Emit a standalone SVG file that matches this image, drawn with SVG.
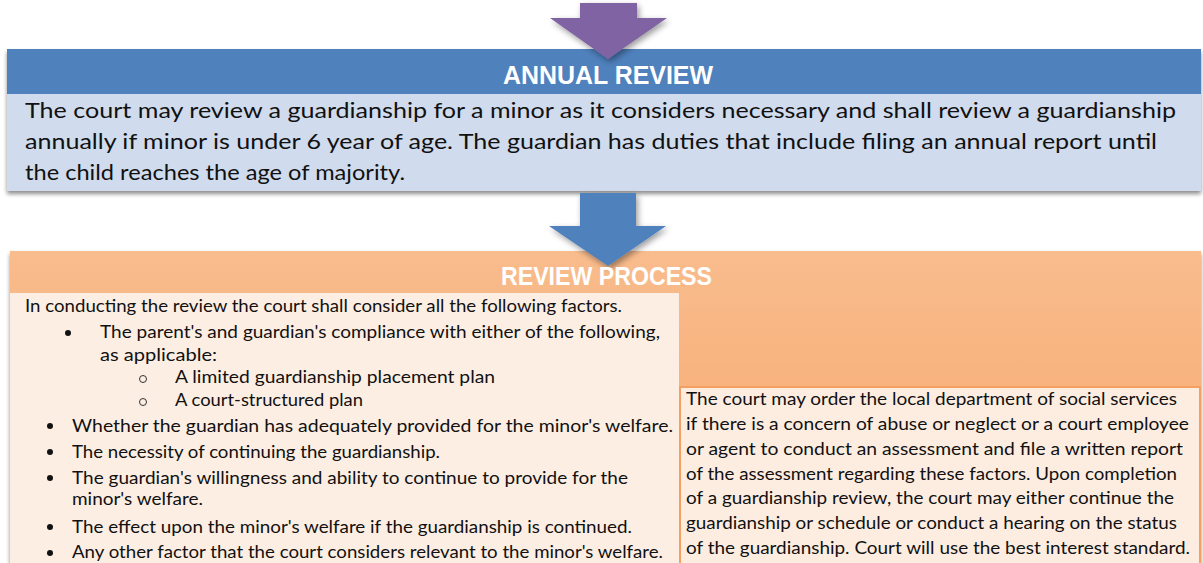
<svg xmlns="http://www.w3.org/2000/svg" width="1203" height="563" viewBox="0 0 1203 563">
  <defs>
    <linearGradient id="orangeFill" x1="0" y1="0" x2="0" y2="1">
      <stop offset="0" stop-color="#F9BC8D"/>
      <stop offset="1" stop-color="#F5A468"/>
    </linearGradient>
    <filter id="boxShadow" x="-5%" y="-10%" width="110%" height="125%">
      <feGaussianBlur in="SourceAlpha" stdDeviation="2"/>
      <feOffset dx="0" dy="3" result="b"/>
      <feComponentTransfer><feFuncA type="linear" slope="0.45"/></feComponentTransfer>
      <feMerge><feMergeNode/><feMergeNode in="SourceGraphic"/></feMerge>
    </filter>
    <filter id="arrowShadow" x="-30%" y="-30%" width="160%" height="160%">
      <feGaussianBlur in="SourceAlpha" stdDeviation="3"/>
      <feOffset dx="2" dy="3" result="b"/>
      <feComponentTransfer><feFuncA type="linear" slope="0.4"/></feComponentTransfer>
      <feMerge><feMergeNode/><feMergeNode in="SourceGraphic"/></feMerge>
    </filter>
  </defs>
  <style>
    .title { font-family: "Liberation Sans", Arial, sans-serif; font-weight: bold; font-size: 25px; fill: #FFFFFF; }
    .lead { font-family: Lato, "Liberation Sans", sans-serif; font-size: 21px; fill: #111111; }
    .body { font-family: Lato, "Liberation Sans", sans-serif; font-size: 16.5px; fill: #111111; }
    .dot { fill: #111111; }
    .ring { fill: none; stroke: #333333; stroke-width: 1; }
  </style>

  <rect width="1203" height="563" fill="#FFFFFF"/>

  <!-- Annual review box -->
  <g id="annual-review">
    <g filter="url(#boxShadow)">
      <rect x="7" y="49" width="1194" height="45" fill="#4F81BD"/>
      <rect x="7" y="94" width="1194" height="97" fill="#D0DBED"/>
    </g>
    <text class="lead" x="25" y="118" textLength="1151" lengthAdjust="spacingAndGlyphs">The court may review a guardianship for a minor as it considers necessary and shall review a guardianship</text>
    <text class="lead" x="25" y="149" textLength="1132" lengthAdjust="spacingAndGlyphs">annually if minor is under 6 year of age. The guardian has duties that include filing an annual report until</text>
    <text class="lead" x="25" y="180" textLength="380" lengthAdjust="spacingAndGlyphs">the child reaches the age of majority.</text>
  </g>

  <!-- Review process box -->
  <g id="review-process">
    <rect x="10" y="251" width="1191" height="330" fill="url(#orangeFill)" filter="url(#boxShadow)"/>
    <g id="factors">
      <rect x="10" y="293" width="669" height="280" fill="#FDEEE3"/>
      <text class="body" x="25" y="312" textLength="597" lengthAdjust="spacingAndGlyphs">In conducting the review the court shall consider all the following factors.</text>
      <circle class="dot" cx="68" cy="333" r="3"/>
      <text class="body" x="100" y="338" textLength="560" lengthAdjust="spacingAndGlyphs">The parent's and guardian's compliance with either of the following,</text>
      <text class="body" x="100" y="361" textLength="117" lengthAdjust="spacingAndGlyphs">as applicable:</text>
      <circle class="ring" cx="143" cy="379" r="3.5"/>
      <text class="body" x="175" y="383" textLength="320" lengthAdjust="spacingAndGlyphs">A limited guardianship placement plan</text>
      <circle class="ring" cx="143" cy="402" r="3.5"/>
      <text class="body" x="175" y="406" textLength="188" lengthAdjust="spacingAndGlyphs">A court-structured plan</text>
      <circle class="dot" cx="50" cy="426" r="3"/>
      <text class="body" x="72" y="432" textLength="601" lengthAdjust="spacingAndGlyphs">Whether the guardian has adequately provided for the minor's welfare.</text>
      <circle class="dot" cx="50" cy="452" r="3"/>
      <text class="body" x="72" y="458" textLength="368" lengthAdjust="spacingAndGlyphs">The necessity of continuing the guardianship.</text>
      <circle class="dot" cx="50" cy="478" r="3"/>
      <text class="body" x="72" y="484" textLength="556" lengthAdjust="spacingAndGlyphs">The guardian's willingness and ability to continue to provide for the</text>
      <text class="body" x="72" y="505" textLength="131" lengthAdjust="spacingAndGlyphs">minor's welfare.</text>
      <circle class="dot" cx="50" cy="527" r="3"/>
      <text class="body" x="72" y="533" textLength="560" lengthAdjust="spacingAndGlyphs">The effect upon the minor's welfare if the guardianship is continued.</text>
      <circle class="dot" cx="50" cy="553" r="3"/>
      <text class="body" x="72" y="558" textLength="591" lengthAdjust="spacingAndGlyphs">Any other factor that the court considers relevant to the minor's welfare.</text>
    </g>
    <g id="assessment">
      <rect x="680" y="387" width="520" height="190" fill="#FDEDE1" stroke="#F59F60" stroke-width="2"/>
      <text class="body" x="686" y="405" textLength="491" lengthAdjust="spacingAndGlyphs">The court may order the local department of social services</text>
      <text class="body" x="686" y="430" textLength="503" lengthAdjust="spacingAndGlyphs">if there is a concern of abuse or neglect or a court employee</text>
      <text class="body" x="686" y="455" textLength="497" lengthAdjust="spacingAndGlyphs">or agent to conduct an assessment and file a written report</text>
      <text class="body" x="686" y="480" textLength="491" lengthAdjust="spacingAndGlyphs">of the assessment regarding these factors. Upon completion</text>
      <text class="body" x="686" y="504" textLength="488" lengthAdjust="spacingAndGlyphs">of a guardianship review, the court may either continue the</text>
      <text class="body" x="686" y="529" textLength="491" lengthAdjust="spacingAndGlyphs">guardianship or schedule or conduct a hearing on the status</text>
      <text class="body" x="686" y="554" textLength="504" lengthAdjust="spacingAndGlyphs">of the guardianship. Court will use the best interest standard.</text>
    </g>
  </g>

  <!-- Flow arrows between stages -->
  <g id="connectors" filter="url(#arrowShadow)">
    <polygon points="580,3 637,3 637,18 667,18 608,59 550,18 580,18" fill="#8064A2"/>
    <polygon points="580,193 636,193 636,226 666,226 608,266 549,226 580,226" fill="#4F81BD"/>
  </g>

  <!-- Stage titles drawn over the arrow tips -->
  <text class="title" x="503" y="84" textLength="210" lengthAdjust="spacingAndGlyphs">ANNUAL REVIEW</text>
  <text class="title" x="501" y="285" textLength="211" lengthAdjust="spacingAndGlyphs">REVIEW PROCESS</text>
</svg>
